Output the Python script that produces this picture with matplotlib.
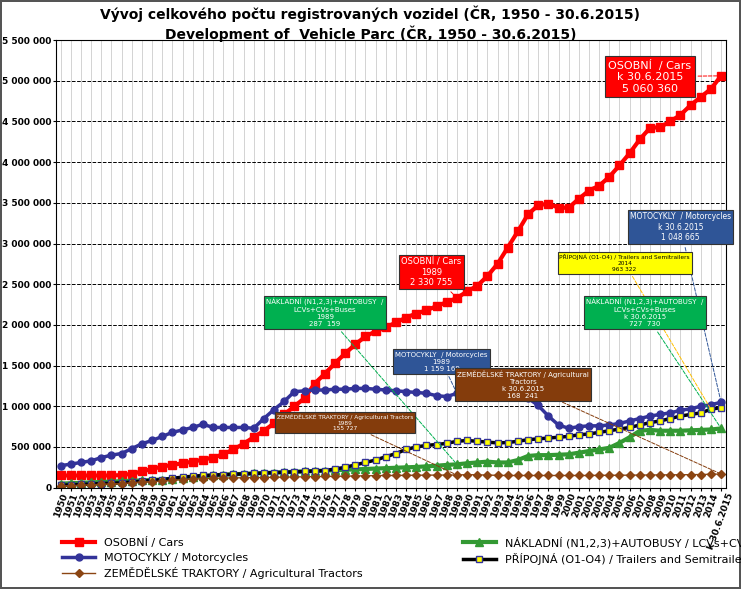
import numpy as np
import matplotlib
matplotlib.use("Agg")
import matplotlib.pyplot as plt
from matplotlib.ticker import FuncFormatter

years = [str(y) for y in range(1950, 2015)] + ["k 30.6.2015"]

cars = [150, 150, 150, 150, 150, 150, 155, 170, 200, 230, 260, 280, 300, 320, 345, 370, 410, 470, 540, 620,
        700, 790, 900, 1000, 1100, 1280, 1400, 1530, 1650, 1760, 1860, 1920, 1970, 2030, 2090, 2140, 2180,
        2230, 2280, 2331, 2411, 2480, 2600, 2750, 2950, 3150, 3360, 3470, 3490, 3440, 3440, 3550, 3650,
        3710, 3820, 3960, 4110, 4280, 4420, 4430, 4500, 4580, 4700, 4800, 4900, 5060]
motorcycles = [270, 290, 310, 330, 370, 400, 420, 480, 540, 580, 630, 680, 710, 740, 780, 740, 740, 740,
               740, 730, 850, 960, 1060, 1180, 1190, 1200, 1200, 1210, 1210, 1220, 1220, 1210, 1200, 1190,
               1180, 1170, 1160, 1130, 1120, 1159, 1170, 1170, 1160, 1160, 1150, 1130, 1100, 1010, 880, 770,
               730, 750, 760, 760, 770, 790, 820, 850, 880, 900, 920, 950, 970, 1000, 1020, 1049]
trucks = [50, 55, 60, 65, 70, 75, 80, 85, 90, 95, 100, 110, 120, 130, 140, 150, 160, 165, 170, 175, 180,
          185, 190, 195, 200, 205, 210, 215, 220, 225, 230, 235, 240, 245, 250, 255, 262, 270, 280, 287,
          300, 310, 320, 310, 310, 340, 390, 400, 400, 405, 410, 430, 450, 470, 490, 550, 620, 700, 710, 700,
          700, 700, 705, 710, 715, 728]
trailers = [30, 35, 40, 45, 50, 55, 60, 70, 80, 90, 100, 115, 130, 140, 150, 155, 160, 165, 170, 175, 180,
            185, 190, 195, 200, 205, 210, 230, 250, 280, 310, 340, 380, 420, 470, 500, 520, 530, 545, 570,
            580, 570, 560, 550, 555, 570, 590, 600, 610, 620, 630, 650, 660, 680, 700, 720, 740, 770, 800,
            820, 850, 880, 900, 920, 963, 985]
tractors = [20, 25, 30, 35, 40, 45, 50, 60, 70, 75, 80, 90, 100, 105, 110, 115, 118, 120, 122, 124, 125,
            128, 130, 132, 134, 136, 138, 140, 142, 144, 146, 148, 150, 150, 152, 153, 154, 155, 155, 156,
            160, 158, 155, 152, 150, 150, 150, 150, 150, 150, 150, 150, 150, 152, 152, 153, 154, 155, 156,
            157, 158, 159, 160, 162, 165, 168]

x = np.arange(len(years))
k = 1000

fig = plt.figure(figsize=(7.41, 5.89), dpi=100)
ax = fig.add_axes([0.075, 0.172, 0.905, 0.76])
fig.patch.set_edgecolor("#555555")
fig.patch.set_linewidth(1.5)

l1, = ax.plot(x, np.array(cars) * k, "-s", color="#ff0000", lw=3, ms=6, label="OSOBNÍ / Cars")
l3, = ax.plot(x, np.array(motorcycles) * k, "-o", color="#333399", lw=2.5, ms=5,
              label="MOTOCYKLY / Motorcycles")
l2, = ax.plot(x, np.array(trucks) * k, "-^", color="#339933", lw=3, ms=6,
              label="NÁKLADNÍ (N1,2,3)+AUTOBUSY / LCVs+CVs+Buses")
l4, = ax.plot(x, np.array(trailers) * k, "-s", color="black", lw=2.5, ms=5, mfc="#ffff00", mec="#333399",
              label="PŘÍPOJNÁ (O1-O4) / Trailers and Semitrailers")
l5, = ax.plot(x, np.array(tractors) * k, "-D", color="#8b4513", lw=1, ms=4,
              label="ZEMĚDĚLSKÉ TRAKTORY / Agricultural Tractors")

ax.set_xlim(-0.5, len(years) - 0.5)
ax.set_ylim(0, 5500000)
ax.set_yticks(np.arange(0, 5500001, 500000))
ax.yaxis.set_major_formatter(FuncFormatter(lambda v, p: f"{int(v):,}".replace(",", " ")))
ax.set_xticks(x)
ax.set_xticklabels(years, rotation=70, fontsize=6.5, fontweight="bold")
for lab in ax.get_yticklabels():
    lab.set_fontsize(6.5)
    lab.set_fontweight("bold")
ax.grid(axis="y", ls="--", color="black", lw=0.7)
ax.grid(axis="x", ls="-", color="#cccccc", lw=0.6)
ax.set_axisbelow(True)
ax.tick_params(length=2, pad=1)

fig.suptitle("Vývoj celkového počtu registrovaných vozidel (ČR, 1950 - 30.6.2015)\n"
             "Development of  Vehicle Parc (ČR, 1950 - 30.6.2015)",
             fontsize=10, fontweight="bold", y=0.99)

def note(text, xy, xytext, fc, tc="white", fs=6, lc=None):
    ax.annotate(text, xy=xy, xytext=xytext, ha="center", va="center", fontsize=fs, color=tc,
                bbox=dict(boxstyle="square,pad=0.3", fc=fc, ec="#333333", lw=0.8),
                arrowprops=dict(arrowstyle="-", ls="--", color=lc or fc, lw=0.7))

i89 = years.index("1989")
last = len(years) - 1
note("OSOBNÍ  / Cars\nk 30.6.2015\n5 060 360", (last, 5060360), (58, 5050000), "#ff0000", fs=8)
note("OSOBNÍ / Cars\n1989\n2 330 755", (i89, 2330755), (36.5, 2650000), "#ff0000", fs=6)
note("MOTOCYKLY  / Motorcycles\nk 30.6.2015\n1 048 665", (last, 1048665), (61, 3200000), "#2f5597",
     fs=5.5)
note("PŘÍPOJNÁ (O1-O4) / Trailers and Semitrailers\n2014\n963 322", (last - 1, 963322),
     (55.5, 2760000), "#ffff00", tc="black", fs=4.2, lc="#ffc000")
note("NÁKLADNÍ (N1,2,3)+AUTOBUSY  /\nLCVs+CVs+Buses\nk 30.6.2015\n727  730", (last, 727730),
     (57.5, 2150000), "#00b050", fs=5)
note("NÁKLADNÍ (N1,2,3)+AUTOBUSY  /\nLCVs+CVs+Buses\n1989\n287  159", (i89, 287159),
     (26, 2150000), "#00b050", fs=5)
note("MOTOCYKLY  / Motorcycles\n1989\n1 159 169", (i89, 1159169), (37.5, 1550000), "#2f5597", fs=5)
note("ZEMĚDĚLSKÉ TRAKTORY / Agricultural\nTractors\nk 30.6.2015\n168  241", (last, 168241),
     (45.5, 1270000), "#843c0c", fs=5)
note("ZEMĚDĚLSKÉ TRAKTORY / Agricultural Tractors\n1989\n155 727", (i89, 155727),
     (28, 800000), "#843c0c", fs=4.2)

fig.legend(handles=[l1, l3, l5, l2, l4], loc="lower left", bbox_to_anchor=(0.07, 0.0), ncol=2,
           frameon=False, fontsize=8, handlelength=3, columnspacing=9, labelspacing=0.4)

fig.savefig("out.png", dpi=100)
